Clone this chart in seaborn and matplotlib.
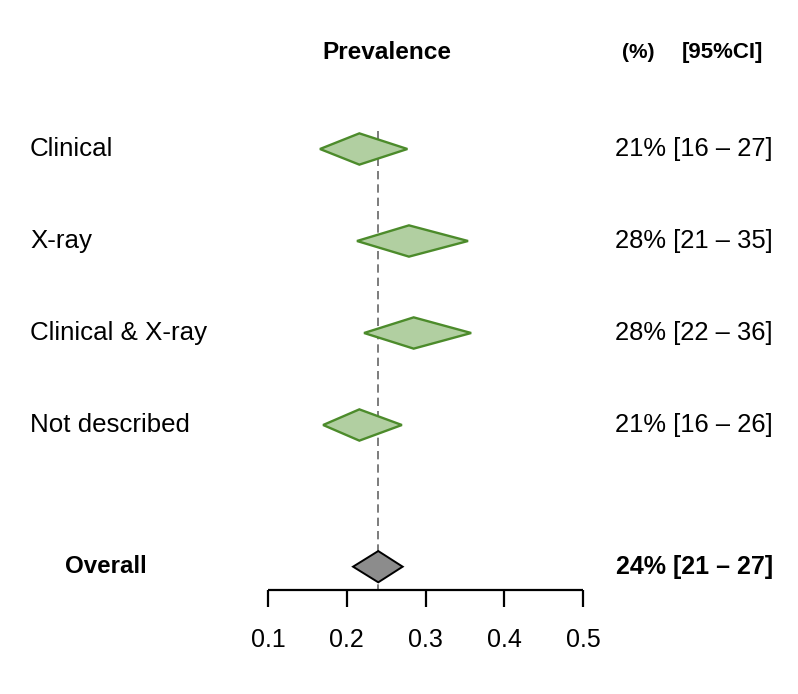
import numpy as np
import pandas as pd
import matplotlib
matplotlib.use("Agg")
import matplotlib.pyplot as plt
import matplotlib.transforms as mtransforms
import seaborn as sns

groups = ["Clinical", "X-ray", "Clinical & X-ray", "Not described"]
est = [0.216, 0.279, 0.285, 0.216]
lower = [0.166, 0.213, 0.222, 0.170]
upper = [0.277, 0.354, 0.358, 0.270]
ci_text = ["21% [16 \u2013 27]", "28% [21 \u2013 35]", "28% [22 \u2013 36]", "21% [16 \u2013 26]"]

overall_est, overall_lo, overall_hi = 0.240, 0.208, 0.271
overall_text = "24% [21 \u2013 27]"

ticks = [0.1, 0.2, 0.3, 0.4, 0.5]

df = pd.DataFrame({"group": groups, "est": est, "lo": lower, "hi": upper, "txt": ci_text})
df["row"] = np.arange(1, len(df) + 1)
overall_row = 5.54

sns.set_theme(style="white")
plt.rcParams["font.family"] = ["Liberation Sans", "DejaVu Sans"]
plt.rcParams["text.color"] = "black"

fig = plt.figure(figsize=(7.98, 6.94), dpi=100)
ax = fig.add_axes([0, 0, 1, 1])
# map 0.1 -> 268 px and 0.5 -> 583 px
ppu = 315 / 0.4
ax.set_xlim(0.1 - 268 / ppu, 0.1 + (798 - 268) / ppu)
ax.set_ylim(1 + (694 - 149) / 92, 1 - 149 / 92)
ax.axis("off")

half_h = 0.17
green_fill = "#b1cfa1"
green_edge = "#4c8b2b"

# reference line at the pooled estimate
ax.vlines(overall_est, 0.8, 5.79, color="#666666", lw=1.2,
          linestyles=(0, (5, 3)), zorder=1)

for _, r in df.iterrows():
    xs = [r["lo"], r["est"], r["hi"], r["est"]]
    ys = [r["row"], r["row"] - half_h, r["row"], r["row"] + half_h]
    ax.fill(xs, ys, facecolor=green_fill, edgecolor=green_edge, lw=1.7, zorder=2)

xs = [overall_lo, overall_est, overall_hi, overall_est]
ys = [overall_row, overall_row - half_h, overall_row, overall_row + half_h]
ax.fill(xs, ys, facecolor="#8c8c8c", edgecolor="black", lw=1.4, zorder=2)

# x axis drawn by hand
axis_y = 5.79
ax.hlines(axis_y, ticks[0], ticks[-1], color="black", lw=1.6, zorder=3)
ax.vlines(ticks, axis_y, axis_y + 0.185, color="black", lw=1.6, zorder=3)
for t in ticks:
    ax.text(t, 6.34, f"{t:.1f}", ha="center", va="center", fontsize=18)

trans = mtransforms.blended_transform_factory(fig.transFigure, ax.transData)
W = 798

for _, r in df.iterrows():
    ax.text(30 / W, r["row"], r["group"], transform=trans, ha="left",
            va="center", fontsize=18.6)
    ax.text(773 / W, r["row"], r["txt"], transform=trans, ha="right",
            va="center", fontsize=18.4)

ax.text(65 / W, overall_row, "Overall", transform=trans, ha="left",
        va="center", fontsize=17.4, fontweight="bold")
ax.text(773 / W, overall_row, overall_text, transform=trans, ha="right",
        va="center", fontsize=18, fontweight="bold")

ax.text(387 / W, -0.05, "Prevalence", transform=trans, ha="center",
        va="center", fontsize=17.6, fontweight="bold")
ax.text(638 / W, -0.05, "(%)", transform=trans, ha="center",
        va="center", fontsize=15, fontweight="bold")
ax.text(722 / W, -0.05, "[95%CI]", transform=trans, ha="center",
        va="center", fontsize=16, fontweight="bold")

fig.savefig("out.png", dpi=100, facecolor="white")
